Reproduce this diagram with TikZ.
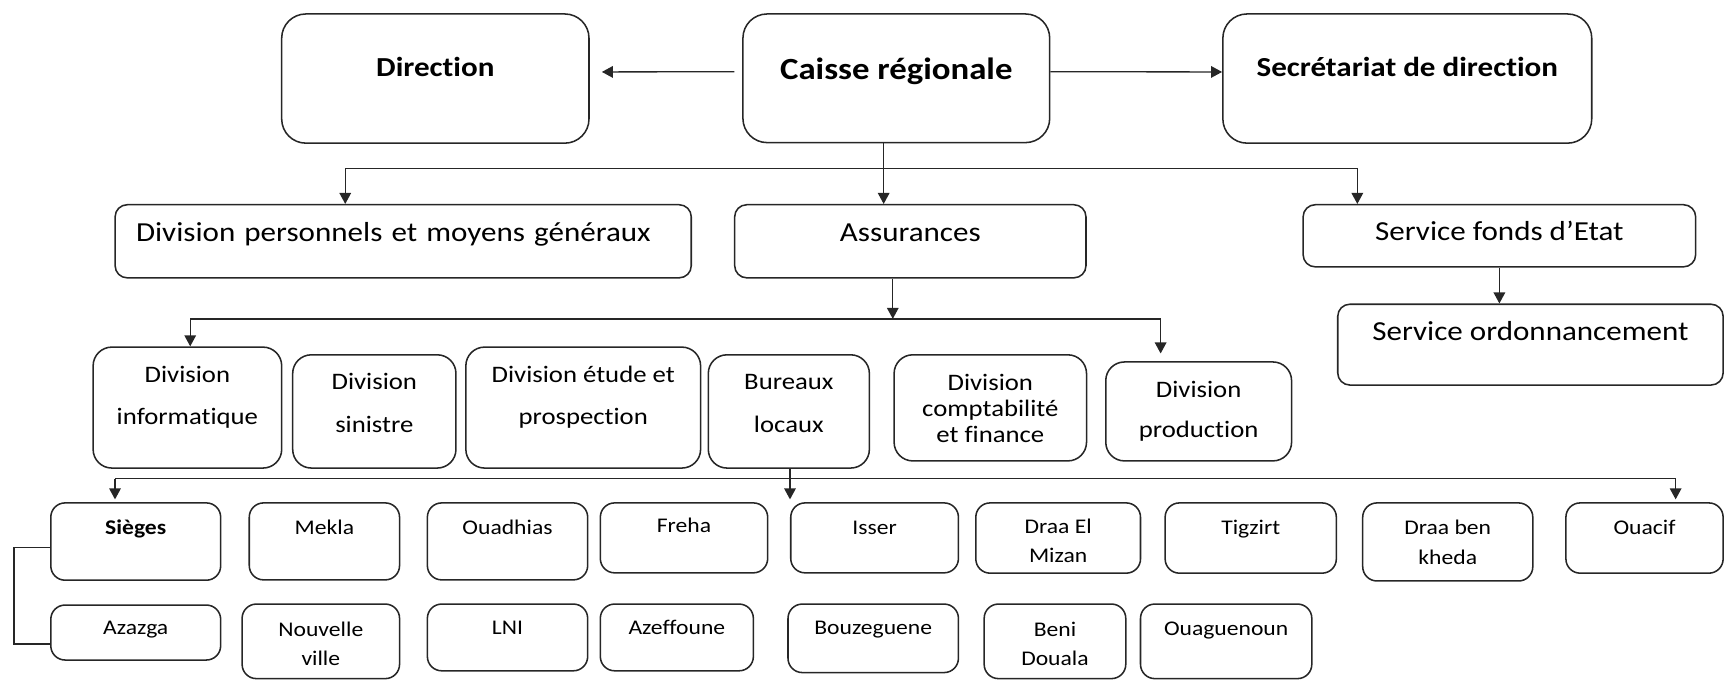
\documentclass[tikz,border=0pt]{standalone}
\usepackage{fontspec}
\setmainfont{Carlito}[FakeStretch=1.13, Ligatures=NoCommon]
\usetikzlibrary{arrows.meta}
\begin{document}
\begin{tikzpicture}[
  x=1pt, y=-1pt,
  orgbox/.style={draw=black!85, line width=1.4pt, inner sep=0pt, align=center, anchor=north west},
  wh/.style n args={3}{minimum width=#1pt, text height=#3pt, text depth={(#2-#3)*1pt}},
  head/.style={orgbox, rounded corners=22pt, font=\bfseries\fontsize{25}{30}\selectfont},
  dept/.style={orgbox, rounded corners=11pt, font=\fontsize{25}{30}\selectfont},
  div/.style={orgbox, rounded corners=17pt, font=\fontsize{21.5}{38.6}\selectfont},
  office/.style={orgbox, rounded corners=13pt, font=\fontsize{19}{26.5}\selectfont},
  link/.style={draw=black!85, line width=1.2pt},
  arr/.style={link, -{Triangle[length=10pt, width=10.5pt]}},
]
\useasboundingbox (0,0) rectangle (1568,618);

% Top level
\node[head, wh={279.5}{117.5}{57}] (dir) at (255.5,12) {Direction};
\node[head, wh={279}{117}{60}, font=\bfseries\fontsize{28}{34}\selectfont] (caisse) at (675,12) {Caisse régionale};
\node[head, wh={335.5}{117.5}{57}] (secr) at (1111.5,12) {Secrétariat de direction};

% Departments
\node[dept, wh={524}{66.5}{33}, align=left, text width=486pt, inner xsep=19pt] (dpmg) at (104,185.5) {Division personnels et moyens généraux};
\node[dept, wh={319.5}{66.5}{33}] (assur) at (667.5,185.5) {Assurances};
\node[dept, wh={357}{56.5}{32.5}] (sfe) at (1184.5,185.5) {Service fonds d’Etat};
\node[dept, wh={350.5}{73.5}{32.7}] (sord) at (1216,276) {Service ordonnancement};

% Divisions of Assurances (text height = last baseline)
\node[div, wh={171.5}{110}{70.6}] (dinf) at (84,315) {Division\\informatique};
\node[div, wh={148.5}{103}{70.6}] (dsin) at (265.5,322) {Division\\sinistre};
\node[div, wh={213.5}{110}{70.6}] (detu) at (423,315) {Division étude et\\prospection};
\node[div, wh={146.5}{103}{70.6}] (bur) at (643.5,322) {Bureaux\\locaux};
\node[div, wh={175}{96.5}{79.7}, font=\fontsize{21.5}{23.5}\selectfont] (dcf) at (812.5,322) {Division\\comptabilité\\et finance};
\node[div, wh={169}{90}{68.3}, font=\fontsize{21.5}{36}\selectfont] (dprod) at (1005,328.5) {Division\\production};

% Local offices, first row
\node[office, wh={154.5}{70.3}{29}, font=\bfseries\fontsize{19}{26.5}\selectfont] (sieg) at (45.5,456.7) {Sièges};
\node[office, wh={136.7}{70}{29}] (mekla) at (226,456.7) {Mekla};
\node[office, wh={145.8}{70}{29}] (ouad) at (388,456.7) {Ouadhias};
\node[office, wh={152.2}{63.6}{27.3}] (freha) at (545.3,456.7) {Freha};
\node[office, wh={152.5}{63.6}{28.3}] (isser) at (718.5,456.7) {Isser};
\node[office, wh={149.8}{63.9}{54.1}] (draael) at (886.8,456.7) {Draa El\\Mizan};
\node[office, wh={155.7}{63.9}{28.3}] (tigz) at (1059,456.7) {Tigzirt};
\node[office, wh={154.7}{71}{55.6}] (draab) at (1238.7,456.7) {Draa ben\\kheda};
\node[office, wh={143}{63.9}{28.3}] (ouacif) at (1423.5,456.7) {Ouacif};

% Local offices, second row
\node[office, wh={154.5}{50}{27}] (azazga) at (45.5,549.6) {Azazga};
\node[office, wh={143.2}{67.8}{56}] (nouv) at (219.5,548.7) {Nouvelle\\ville};
\node[office, wh={145.8}{60.7}{28}] (lni) at (388,548.7) {LNI};
\node[office, wh={139.2}{60.7}{28}] (azef) at (545.3,548.7) {Azeffoune};
\node[office, wh={155}{62.3}{28}] (bouz) at (716,548.7) {Bouzeguene};
\node[office, wh={128.8}{67.8}{56}] (beni) at (894.4,548.7) {Beni\\Douala};
\node[office, wh={155.8}{67.8}{28.8}] (ouag) at (1036.6,548.7) {Ouaguenoun};

% Bus coordinates
\coordinate (b1) at (314,153);
\coordinate (b2) at (1234.5,153);
\coordinate (c1) at (173,290);
\coordinate (c2) at (1055.6,290);
\coordinate (c3) at (812,290);
\coordinate (d1) at (104.6,435.5);
\coordinate (d2) at (718.5,435.5);
\coordinate (d3) at (1524,435.5);
\coordinate (e1) at (12.7,497.8);
\coordinate (e2) at (12.7,585.7);

% Top connectors
\draw[arr, shorten <=7pt, shorten >=11pt] ([yshift=6pt]caisse.west) -- ([yshift=6pt]dir.east);
\draw[arr] ([yshift=6pt]caisse.east) -- ([yshift=6pt]secr.west);
\draw[arr] ([xshift=-11.5pt]caisse.south) -- ([xshift=-11.5pt]caisse.south |- assur.north);
\draw[link] (b1) -- (b2);
\draw[arr] (b1) -- (b1 |- dpmg.north);
\draw[arr] (b2) -- (b2 |- sfe.north);
\draw[arr] (sfe.south) -- (sfe.south |- sord.north);

% Assurances connectors
\draw[arr] (assur.south -| c3) -- (c3);
\draw[link] (c1) -- (c2);
\draw[arr] (c1) -- (c1 |- dinf.north);
\draw[arr, shorten >=7pt] (c2) -- (c2 |- dprod.north);

% Bureaux locaux connectors
\draw[arr, shorten >=2.5pt] (bur.south -| d2) -- (d2 |- isser.north);
\draw[link] (d1) -- (d3);
\draw[arr, shorten >=2.5pt] (d1) -- (d1 |- sieg.north);
\draw[arr, shorten >=2.5pt] (d3) -- (d3 |- ouacif.north);
\draw[link] (sieg.west |- e1) -- (e1) -- (e2) -- (azazga.west |- e2);
\end{tikzpicture}
\end{document}
